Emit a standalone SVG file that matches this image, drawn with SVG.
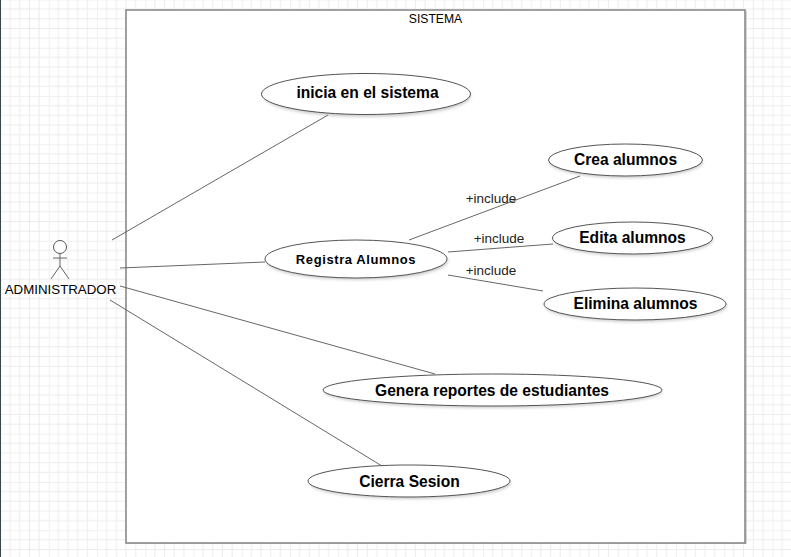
<svg xmlns="http://www.w3.org/2000/svg" width="791" height="557" viewBox="0 0 791 557">
<style>
.t{font-family:"Liberation Sans",Arial,sans-serif;fill:#000;text-anchor:middle}
.b{font-weight:bold;font-size:15.6px}
.l{font-size:13.5px;fill:#222}
.u{fill:#fff;stroke:#555;stroke-width:1}
.c{stroke:#666;stroke-width:1;fill:none}
</style>
<defs>
<pattern id="g" x="0.5" y="-0.5" width="48.25" height="48.25" patternUnits="userSpaceOnUse">
<path d="M9.65 0V48.25M19.3 0V48.25M28.95 0V48.25M38.6 0V48.25M0 9.65H48.25M0 19.3H48.25M0 28.95H48.25M0 38.6H48.25" stroke="#ececec" stroke-width="1" fill="none"/>
<path d="M0 0V48.25M0 0H48.25" stroke="#f0f0f0" stroke-width="2" fill="none"/>
</pattern>
<filter id="s" x="-10%" y="-20%" width="120%" height="150%"><feGaussianBlur stdDeviation="1.5"/></filter>
</defs>
<rect width="791" height="557" fill="#fff"/>
<rect width="791" height="557" fill="url(#g)"/>
<rect x="0" y="0" width="1" height="557" fill="#37474a"/>
<g id="sistema">
<rect x="127" y="11" width="620" height="533" fill="#999" opacity=".4"/>
<rect x="126" y="10" width="619" height="533" fill="#fff" stroke="#8a8a8a" stroke-width="1.600"/>
<text class="t" x="435.500" y="23" font-size="12.200">SISTEMA</text>
</g>
<g id="connectors">
<path class="c" d="M112 240L328 115M120 268L265 262M120 286L435 374M110 300L382 466"/>
<path class="c" d="M409 240L580 176M448 252L553 244M448 275L543 291"/>
<g>
<text class="t l" x="491" y="203">+include</text>
<text class="t l" x="499" y="243">+include</text>
<text class="t l" x="491" y="275">+include</text>
</g>
</g>
<g id="actor">
<circle cx="60" cy="247" r="6.500" fill="#fff" stroke="#555"/>
<path class="c" d="M60 254V266M53 258H67M60 266L51 279M60 266L69 279"/>
<text class="t" x="60.500" y="294" font-size="13.300">ADMINISTRADOR</text>
</g>
<g id="uc-inicia">
<ellipse cx="367" cy="96" rx="104" ry="21" fill="#999" opacity=".5" filter="url(#s)"/>
<ellipse class="u" cx="366" cy="94" rx="104.500" ry="20.500"/>
<text class="t b" x="367.500" y="98">inicia en el sistema</text>
</g>
<g id="uc-registra">
<ellipse cx="357" cy="261" rx="91" ry="19" fill="#999" opacity=".5" filter="url(#s)"/>
<ellipse class="u" cx="356" cy="259" rx="91" ry="19"/>
<text class="t" x="356" y="264" font-size="13" font-weight="bold" letter-spacing=".6">Registra Alumnos</text>
</g>
<g id="uc-crea">
<ellipse cx="626" cy="162" rx="77" ry="16" fill="#999" opacity=".5" filter="url(#s)"/>
<ellipse class="u" cx="625.500" cy="160" rx="77" ry="16"/>
<text class="t b" x="625.500" y="165">Crea alumnos</text>
</g>
<g id="uc-edita">
<ellipse cx="633" cy="240" rx="80" ry="16" fill="#999" opacity=".5" filter="url(#s)"/>
<ellipse class="u" cx="632.500" cy="238" rx="80" ry="16"/>
<text class="t b" x="632.500" y="243">Edita alumnos</text>
</g>
<g id="uc-elimina">
<ellipse cx="636" cy="306" rx="91" ry="16" fill="#999" opacity=".5" filter="url(#s)"/>
<ellipse class="u" cx="635" cy="304" rx="91" ry="16"/>
<text class="t b" x="635.500" y="309">Elimina alumnos</text>
</g>
<g id="uc-genera">
<ellipse cx="493" cy="392" rx="169" ry="16" fill="#999" opacity=".5" filter="url(#s)"/>
<ellipse class="u" cx="492.500" cy="390" rx="169.500" ry="16"/>
<text class="t b" x="492" y="396">Genera reportes de estudiantes</text>
</g>
<g id="uc-cierra">
<ellipse cx="410" cy="483" rx="101" ry="16" fill="#999" opacity=".5" filter="url(#s)"/>
<ellipse class="u" cx="409" cy="481" rx="101" ry="16"/>
<text class="t b" x="409.500" y="487">Cierra Sesion</text>
</g>
</svg>
